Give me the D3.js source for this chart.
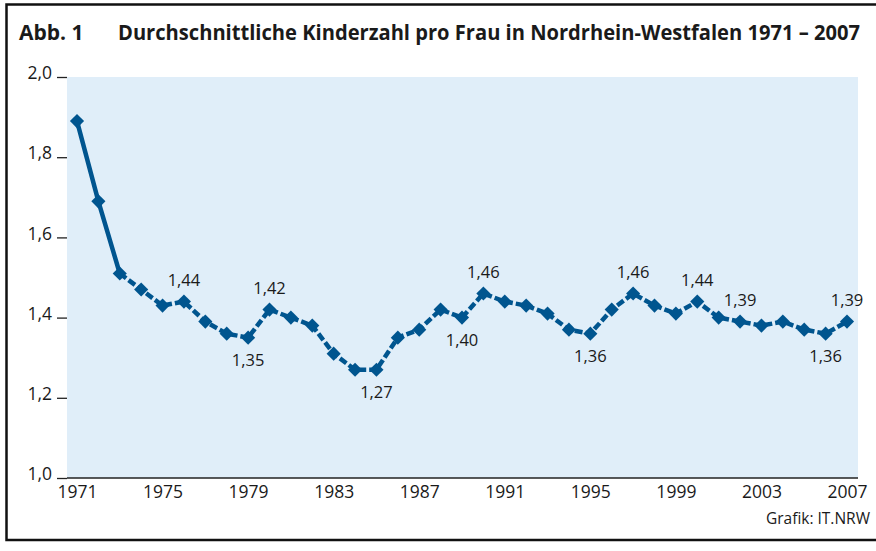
<!DOCTYPE html>
<html lang="de">
<head>
  <meta charset="UTF-8">
  <title>Durchschnittliche Kinderzahl pro Frau</title>
  <script src="https://d3js.org/d3.v7.min.js"></script>
  <style>
    body { margin: 0; background: #fff; font-family: "Open Sans", Arial, sans-serif; }
    svg text { fill: #1a1a1a; }
  </style>
</head>
<body>
  <svg id="chart" width="876" height="551"></svg>

  <script>
    // data
    const years = [1971, 1972, 1973, 1974, 1975, 1976, 1977, 1978, 1979, 1980,
                   1981, 1982, 1983, 1984, 1985, 1986, 1987, 1988, 1989, 1990,
                   1991, 1992, 1993, 1994, 1995, 1996, 1997, 1998, 1999, 2000,
                   2001, 2002, 2003, 2004, 2005, 2006, 2007];
    const births = [1.89, 1.69, 1.51, 1.47, 1.43, 1.44, 1.39, 1.36, 1.35, 1.42,
                    1.40, 1.38, 1.31, 1.27, 1.27, 1.35, 1.37, 1.42, 1.40, 1.46,
                    1.44, 1.43, 1.41, 1.37, 1.36, 1.42, 1.46, 1.43, 1.41, 1.44,
                    1.40, 1.39, 1.38, 1.39, 1.37, 1.36, 1.39];
    const labelYears = [1976, 1979, 1980, 1985, 1989, 1990, 1995, 1997, 2000, 2002, 2006, 2007];
    const labelSide  = ["up", "down", "up", "down", "down", "up", "down", "up", "up", "up", "down", "up"];
    const xTicks = [1971, 1975, 1979, 1983, 1987, 1991, 1995, 1999, 2003, 2007];
    const yTicks = [1.0, 1.2, 1.4, 1.6, 1.8, 2.0];
    const solidUntil = 1973;

    const blue = "#00558f";
    const de = d3.formatLocale({decimal: ",", thousands: ".", grouping: [3], currency: ["", " €"]});
    const fmt1 = de.format(".1f"), fmt2 = de.format(".2f");

    const svg = d3.select("#chart");
    const plot = {left: 67, right: 858, top: 77, bottom: 478};

    const x = d3.scaleLinear().domain([1971, 2007]).range([77, 847]);
    const y = d3.scaleLinear().domain([1, 2]).range([plot.bottom, plot.top]);

    const data = years.map((yr, i) => ({year: yr, value: births[i]}));

    // frame
    svg.append("rect")
      .attr("x", 6.5).attr("y", 4.5)
      .attr("width", 880).attr("height", 535.5)
      .attr("fill", "none").attr("stroke", "#111").attr("stroke-width", 2.5);

    // title
    svg.append("text")
      .attr("x", 19).attr("y", 40)
      .attr("font-size", 21).attr("font-weight", "bold")
      .text("Abb. 1");
    const title = svg.append("text")
      .attr("x", 118).attr("y", 40)
      .attr("font-size", 20.5).attr("font-weight", "bold")
      .text("Durchschnittliche Kinderzahl pro Frau in Nordrhein-Westfalen 1971 – 2007");
    title.attr("textLength", 742).attr("lengthAdjust", "spacingAndGlyphs");

    // plot background
    svg.append("rect")
      .attr("x", plot.left).attr("y", plot.top)
      .attr("width", plot.right - plot.left).attr("height", plot.bottom - plot.top)
      .attr("fill", "#e0eef9");

    // y axis
    const yAxis = svg.append("g")
      .attr("transform", `translate(${plot.left},0)`)
      .call(d3.axisLeft(y).tickValues(yTicks).tickFormat(fmt1).tickSize(10).tickPadding(5));
    yAxis.select(".domain").remove();
    yAxis.selectAll(".tick line").attr("stroke", "#222").attr("stroke-width", 1.3);
    yAxis.selectAll(".tick text")
      .attr("font-family", "Open Sans").attr("font-size", 17.5)
      .attr("dy", "0.1em").attr("fill", "#1a1a1a");

    // x axis
    const xAxis = svg.append("g")
      .attr("transform", `translate(0,${plot.bottom})`)
      .call(d3.axisBottom(x).tickValues(xTicks).tickFormat(d3.format("d")).tickSize(0).tickPadding(8));
    xAxis.select(".domain")
      .attr("d", `M${plot.left},0H${plot.right}`)
      .attr("stroke", "#222").attr("stroke-width", 1.3);
    xAxis.selectAll(".tick text")
      .attr("font-family", "Open Sans").attr("font-size", 17.5)
      .attr("fill", "#1a1a1a");

    // line: solid at the start, dashed afterwards
    const line = d3.line().x(d => x(d.year)).y(d => y(d.value));
    svg.append("path")
      .datum(data.filter(d => d.year <= solidUntil))
      .attr("d", line)
      .attr("fill", "none").attr("stroke", blue).attr("stroke-width", 4.5)
      .attr("stroke-linejoin", "round");
    svg.append("path")
      .datum(data.filter(d => d.year >= solidUntil))
      .attr("d", line)
      .attr("fill", "none").attr("stroke", blue).attr("stroke-width", 4.5)
      .attr("stroke-dasharray", "8,3");

    // diamond markers
    const diamond = d3.symbol().type(d3.symbolSquare).size(100);
    svg.selectAll(".marker")
      .data(data)
      .enter().append("path")
      .attr("class", "marker")
      .attr("d", diamond)
      .attr("transform", d => `translate(${x(d.year)},${y(d.value)}) rotate(45)`)
      .attr("fill", blue);

    // value labels
    const labelData = labelYears.map((yr, i) => ({
      year: yr, side: labelSide[i], value: births[years.indexOf(yr)]
    }));
    svg.selectAll(".vlabel")
      .data(labelData)
      .enter().append("text")
      .attr("class", "vlabel")
      .attr("x", d => x(d.year))
      .attr("y", d => y(d.value) + (d.side === "up" ? -16 : 28))
      .attr("text-anchor", "middle")
      .attr("font-size", 16.5)
      .text(d => fmt2(d.value));

    // source
    svg.append("text")
      .attr("x", 870).attr("y", 524)
      .attr("text-anchor", "end")
      .attr("font-size", 15.5)
      .text("Grafik: IT.NRW");
  </script>
</body>
</html>
